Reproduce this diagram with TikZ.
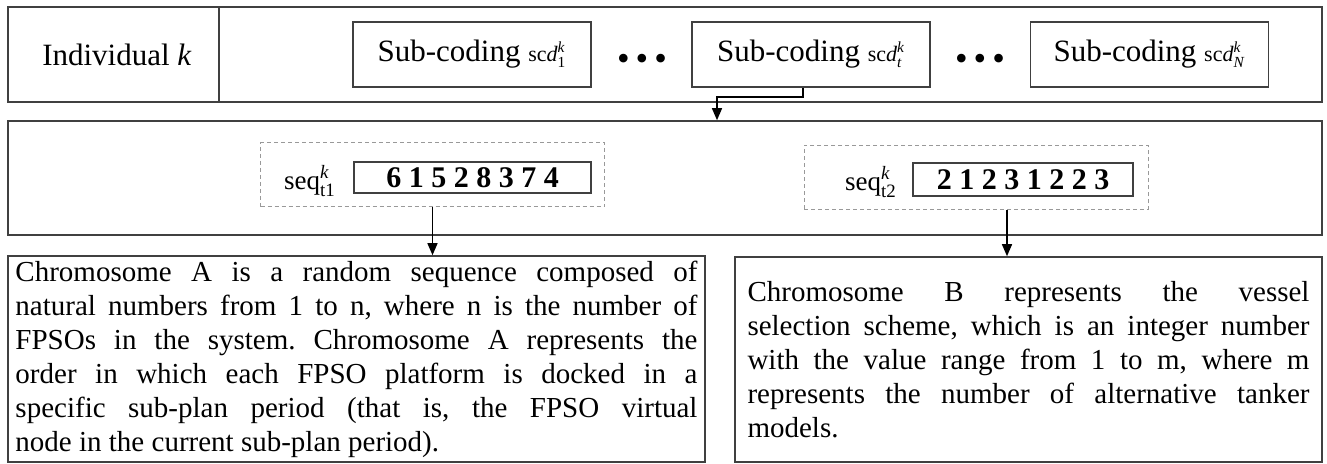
\documentclass[tikz,border=0pt]{standalone}
\usepackage{amsmath}
\usepackage{fontspec}
\setmainfont{Liberation Serif}
\usepackage{tikz}
\usetikzlibrary{arrows.meta}
\frenchspacing

\newcommand{\Scd}[1]{{\fontsize{11}{12}\selectfont sc$\textit{d}_{\textnormal{#1}}^{\textit{k}}$}}
\newcommand{\Seq}[1]{{\fontsize{13.5}{14}\selectfont seq$_{\textnormal{#1}}^{\textit{k}}$}}
\newcommand{\Dots}{{\fontsize{18}{18}\selectfont\textbullet\,\textbullet\,\textbullet}}
\newcommand{\Digits}{\fontsize{15}{16}\selectfont\bfseries}

\begin{document}
\begin{tikzpicture}[x=0.5pt,y=-0.5pt]
  \tikzstyle{every node}=[font=\fontsize{15.5}{18}\selectfont]
  \tikzstyle{Frame}=[draw=black!75,line width=0.8pt,inner sep=0pt]
  \tikzstyle{SubBox}=[Frame,minimum width=119pt,minimum height=32.5pt]
  \tikzstyle{DashBox}=[draw=black!40,dash pattern=on 2pt off 1.5pt,line width=0.5pt,
                       minimum width=172pt,minimum height=32pt]
  \tikzstyle{TextBox}=[Frame,align=justify,font=\fontsize{14.5}{17}\selectfont]
  \tikzstyle{EdgeStyle}=[draw=black,line width=0.7pt,-{Triangle[length=6pt,width=5pt]}]
  \useasboundingbox (0,0) rectangle (1327,464);
  % individual
  \node[Frame,minimum width=657pt,minimum height=47.5pt] (Top) at (665,54.5) {};
  \draw[Frame] (Top.north west) ++(212,0) -- ++(0,95);
  \node (Ind) at (117,54.5) {Individual \textit{k}};
  \node[SubBox] (S1) at (472,54.5) {Sub-coding~\Scd{1}};
  \node (D1) at (642,62) {\Dots};
  \node[SubBox] (St) at (811,54.5) {Sub-coding~\Scd{\textit{t}}};
  \node (D2) at (980,62) {\Dots};
  \node[SubBox] (SN) at (1149.5,54.5) {Sub-coding~\Scd{\textit{N}}};
  % chromosomes
  \node[Frame,minimum width=657pt,minimum height=57pt] (Mid) at (665,178) {};
  \node[DashBox] (Q1) at (432.5,175) {};
  \node[Frame,minimum width=118.5pt,minimum height=15.5pt] (C1) at (472.5,177.5) {\Digits 6 1 5 2 8 3 7 4};
  \node (L1) at (310,181) {\Seq{t1}};
  \node[DashBox] (Q2) at (976,177.5) {};
  \node[Frame,minimum width=110pt,minimum height=16.5pt] (C2) at (1023,179.5) {\Digits 2 1 2 3 1 2 2 3};
  \node (L2) at (871,182) {\Seq{t2}};
  % descriptions
  \node[TextBox,minimum width=348.5pt,minimum height=103pt,text width=341pt] (A) at (356.5,359)
    {Chromosome A is a random sequence composed of\linebreak
     natural numbers from 1 to n, where n is the number of\linebreak
     FPSOs in the system. Chromosome A represents the\linebreak
     order in which each FPSO platform is docked in a\linebreak
     specific sub-plan period (that is, the FPSO virtual\linebreak
     node in the current sub-plan period).};
  \node[TextBox,minimum width=293.5pt,minimum height=102.5pt,text width=281pt] (B) at (1028.5,359.5)
    {Chromosome B represents the vessel\linebreak
     selection scheme, which is an integer number\linebreak
     with the value range from 1 to m, where m\linebreak
     represents the number of alternative tanker\linebreak
     models.};
  \coordinate (Turn) at (717,97);
  \coordinate (Q2o) at ([xshift=15.5pt]Q2.south);
  \draw[EdgeStyle] ([xshift=-4pt]St.south) |- (Turn) -- (Turn |- Mid.north);
  \draw[EdgeStyle] (Q1.south) -- (Q1.south |- A.north);
  \draw[EdgeStyle] (Q2o) -- (Q2o |- B.north);
%  \draw[EdgeStyle] (S1.south) -- (S1.south |- Mid.north);
\end{tikzpicture}
\end{document}
